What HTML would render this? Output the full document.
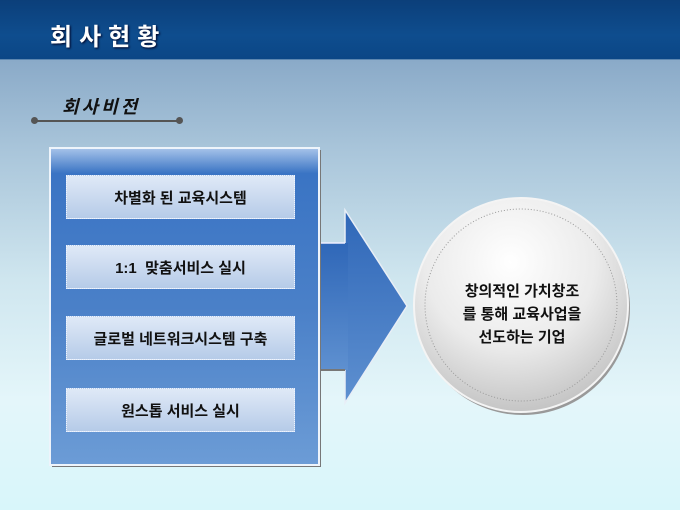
<!DOCTYPE html>
<html><head><meta charset="utf-8"><style>
html,body{margin:0;padding:0;}
body{width:680px;height:510px;overflow:hidden;position:relative;font-family:"Liberation Sans","Noto Sans CJK KR",sans-serif;
background:linear-gradient(180deg,#8aaac8 60px,#a9c5da 150px,#cfe6ef 280px,#e4f6fa 400px,#d8f6fa 510px);}
.hdr{position:absolute;left:0;top:0;width:680px;height:59px;background:linear-gradient(180deg,#0c3f7a,#0e4d8e 60%,#0b4686);border-bottom:1px solid #5c86b0;}
.hdr span{position:absolute;left:50px;top:17px;color:#fff;font-size:24px;font-weight:bold;letter-spacing:7px;text-shadow:1px 1px 2px #002;}
.sub{position:absolute;left:62px;top:93px;font-size:18px;font-weight:bold;font-style:italic;color:#111;letter-spacing:3px;}
.line{position:absolute;left:34px;top:120px;width:146px;height:2px;background:#555;}
.dot{position:absolute;width:7px;height:7px;border-radius:50%;background:#555;top:117px;}
.box{position:absolute;left:66px;width:229px;height:44px;border:1px dotted #eef4ff;background:linear-gradient(180deg,#dfe9f7,#b6cbe8);
display:flex;align-items:center;justify-content:center;font-size:15px;font-weight:bold;color:#111;box-sizing:border-box;}
.txt{position:absolute;left:416px;top:280px;width:212px;text-align:center;font-size:15px;font-weight:bold;line-height:23px;color:#111;}
</style></head><body>
<div class="hdr"><span>회사현황</span></div>
<div class="sub">회사비전</div>
<div class="line"></div><div class="dot" style="left:31px"></div><div class="dot" style="left:176px"></div>
<svg width="680" height="510" style="position:absolute;left:0;top:0">
<defs>
<linearGradient id="pg" x1="0" y1="0" x2="0" y2="1">
<stop offset="0" stop-color="#a8c4ea"/><stop offset="0.08" stop-color="#3a74c4"/><stop offset="0.5" stop-color="#4a80c8"/><stop offset="1" stop-color="#6c9cd6"/></linearGradient>
<linearGradient id="ag" x1="0" y1="0" x2="0" y2="1">
<stop offset="0" stop-color="#2f67b8"/><stop offset="1" stop-color="#5e90d0"/></linearGradient>
<radialGradient id="cg" cx="0.45" cy="0.3" r="0.8">
<stop offset="0" stop-color="#ffffff"/><stop offset="0.5" stop-color="#ebebeb"/><stop offset="1" stop-color="#b8b8b8"/></radialGradient>
</defs>
<polygon points="345,210 407,306 345,403" fill="url(#ag)" stroke="#e8eef6" stroke-width="1.5"/>
<rect x="318" y="243" width="30" height="127" fill="url(#ag)"/>
<line x1="320" y1="243" x2="345" y2="243" stroke="#eef" stroke-width="1.5"/>
<line x1="320" y1="370" x2="345" y2="370" stroke="#777" stroke-width="2"/>
<rect x="52" y="150" width="269" height="317" fill="#777"/>
<rect x="50" y="148" width="269" height="317" fill="url(#pg)" stroke="#eef4fb" stroke-width="2"/>
<circle cx="523" cy="308" r="107" fill="#999"/>
<circle cx="521" cy="305" r="107" fill="url(#cg)" stroke="#f4f4f4" stroke-width="2"/>
<circle cx="521" cy="305" r="96" fill="none" stroke="#9a9a9a" stroke-width="1" stroke-dasharray="1,2"/>
</svg>
<div class="box" style="top:175px">차별화 된 교육시스템</div>
<div class="box" style="top:245px">1:1&nbsp; 맞춤서비스 실시</div>
<div class="box" style="top:316px">글로벌 네트워크시스템 구축</div>
<div class="box" style="top:388px">원스톱 서비스 실시</div>
<div class="txt">창의적인 가치창조<br>를 통해 교육사업을<br>선도하는 기업</div>
</body></html>
